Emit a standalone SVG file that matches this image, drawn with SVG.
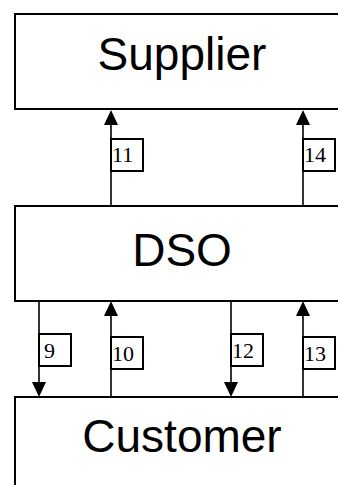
<svg xmlns="http://www.w3.org/2000/svg" width="338" height="485" viewBox="0 0 338 485">
  <style>
    .box { fill: #fff; stroke: #000; stroke-width: 2; }
    .title { font-family: "Liberation Sans", Arial, sans-serif; font-size: 46px; fill: #000; text-anchor: middle; }
    .conn { stroke: #000; stroke-width: 1.6; fill: none; }
    .head { fill: #000; }
    .tag { fill: #fff; stroke: #000; stroke-width: 2; }
    .num { font-family: "Liberation Serif", "Times New Roman", serif; font-size: 22px; fill: #000; }
  </style>

  <g id="supplier">
    <rect class="box" x="15" y="14" width="335" height="95"/>
    <text class="title" x="182" y="70">Supplier</text>
  </g>
  <g id="dso">
    <rect class="box" x="15" y="206" width="335" height="95"/>
    <text class="title" x="182" y="266">DSO</text>
  </g>
  <g id="customer">
    <rect class="box" x="15" y="397" width="335" height="100"/>
    <text class="title" x="182" y="452">Customer</text>
  </g>

  <g id="connectors">
    <!-- DSO to Supplier -->
    <path class="conn" d="M111,206 V124"/>
    <path class="head" d="M104,125 L111,110 L118,125 Z"/>
    <path class="conn" d="M303,206 V124"/>
    <path class="head" d="M296,125 L303,110 L310,125 Z"/>
    <!-- DSO to Customer -->
    <path class="conn" d="M39,301 V383"/>
    <path class="head" d="M32,382 L39,397 L46,382 Z"/>
    <path class="conn" d="M231,301 V383"/>
    <path class="head" d="M224,382 L231,397 L238,382 Z"/>
    <!-- Customer to DSO -->
    <path class="conn" d="M111,397 V315"/>
    <path class="head" d="M104,316 L111,301 L118,316 Z"/>
    <path class="conn" d="M303,397 V315"/>
    <path class="head" d="M296,316 L303,301 L310,316 Z"/>

    <!-- connector labels -->
    <rect class="tag" x="111" y="139" width="32" height="32"/>
    <text class="num" x="112" y="162">11</text>
    <rect class="tag" x="303" y="139" width="32" height="32"/>
    <text class="num" x="304" y="162">14</text>
    <rect class="tag" x="39" y="334" width="32" height="32"/>
    <text class="num" x="44" y="358">9</text>
    <rect class="tag" x="111" y="337" width="32" height="32"/>
    <text class="num" x="112" y="361">10</text>
    <rect class="tag" x="231" y="334" width="32" height="32"/>
    <text class="num" x="232" y="358">12</text>
    <rect class="tag" x="303" y="337" width="32" height="32"/>
    <text class="num" x="304" y="361">13</text>
  </g>
</svg>
